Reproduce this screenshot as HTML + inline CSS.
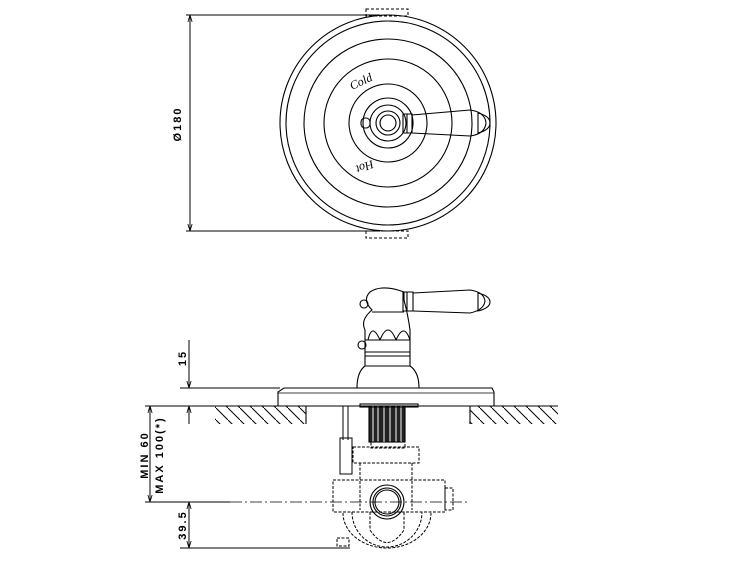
<!DOCTYPE html>
<html><head><style>body{margin:0;background:#fff}svg{display:block}</style></head><body>
<svg width="750" height="563" viewBox="0 0 750 563" xmlns="http://www.w3.org/2000/svg" font-family="Liberation Sans, sans-serif">
<defs>
<marker id="a" viewBox="0 0 10 10" refX="10" refY="5" markerWidth="7" markerHeight="7" orient="auto-start-reverse"><path d="M0,2 L10,5 L0,8" fill="none" stroke="#000" stroke-width="1.2"/></marker>
<pattern id="h" width="12" height="12" patternUnits="userSpaceOnUse"><path d="M0,0 L12,12" stroke="#000" stroke-width="1"/></pattern>
</defs>
<g fill="none" stroke="#000" stroke-width="1.1">
<line x1="186" y1="15" x2="380" y2="15" stroke-width="1"/>
<line x1="186" y1="231" x2="380" y2="231" stroke-width="1"/>
<line x1="190" y1="15" x2="190" y2="231" stroke-width="1" marker-start="url(#a)" marker-end="url(#a)"/>
<rect x="366" y="9" width="42" height="7" stroke-dasharray="3,2" stroke-width="1"/>
<rect x="366" y="231" width="42" height="7" stroke-dasharray="3,2" stroke-width="1"/>
<circle cx="388" cy="123" r="108"/>
<circle cx="388" cy="123" r="102"/>
<circle cx="388" cy="123" r="84"/>
<circle cx="388" cy="123" r="64"/>
<circle cx="388" cy="123" r="39"/>
<circle cx="388" cy="123" r="25"/>
<circle cx="388" cy="123" r="18"/>
<circle cx="388" cy="123" r="12"/>
<circle cx="388" cy="123" r="8"/>
<rect x="361" y="118" width="9" height="10" rx="4"/>
<path d="M403,114 L412,114 L412,133 L403,133 Z M407,114 V133"/>
<path d="M412,115 L470,110 Q485,112 486,123 Q485,134 470,136 L412,133"/>
<path d="M478,113 Q490,116 490,123 Q490,130 478,133 Z"/>
<line x1="180" y1="388" x2="280" y2="388" stroke-width="1"/>
<line x1="145" y1="406" x2="215" y2="406" stroke-width="1"/>
<line x1="145" y1="502" x2="230" y2="502" stroke-width="1"/>
<line x1="180" y1="548" x2="350" y2="548" stroke-width="1"/>
<line x1="189" y1="340" x2="189" y2="388" stroke-width="1" marker-end="url(#a)"/>
<line x1="189" y1="424" x2="189" y2="406" stroke-width="1" marker-end="url(#a)"/>
<line x1="150" y1="406" x2="150" y2="502" stroke-width="1" marker-start="url(#a)" marker-end="url(#a)"/>
<line x1="189" y1="502" x2="189" y2="548" stroke-width="1" marker-start="url(#a)" marker-end="url(#a)"/>
<line x1="230" y1="502" x2="470" y2="502" stroke-width="0.8" stroke-dasharray="12,3,2,3"/>
<rect x="215" y="406" width="91" height="18" fill="url(#h)" stroke="none"/>
<rect x="470" y="406" width="88" height="18" fill="url(#h)" stroke="none"/>
<line x1="215" y1="406" x2="558" y2="406"/>
<line x1="306" y1="406" x2="306" y2="424"/>
<line x1="470" y1="406" x2="470" y2="424"/>
<path d="M278,406 V392 L284,388 H492 L494,392 V406"/>
<line x1="278" y1="393" x2="494" y2="393" stroke-width="0.8"/>
<path d="M357,388 Q357,372 365,366 V330 Q360,320 372,310 Q362,300 370,292 Q380,285 398,290 L404,292 V300 Q408,315 410,330 V366 Q419,372 419,388"/>
<path d="M365,340 H410 M365,352 H410 M365,356 H410 M365,366 H410"/>
<path d="M368,340 Q372,322 380,340 M380,340 Q388,320 396,340 M396,340 Q404,322 410,340"/>
<circle cx="362" cy="345" r="4"/>
<circle cx="364" cy="304" r="4"/>
<path d="M372,312 H404"/>
<path d="M403,292 L413,292 L413,311 L403,311 Z M407,292 V311"/>
<path d="M413,293 L470,290 Q484,292 485,301 Q484,310 470,313 L413,311"/>
<path d="M478,293 Q490,296 490,302 Q490,308 478,311 Z"/>
<rect x="369" y="406" width="36" height="36" fill="#222" stroke="#000"/>
<path d="M373,406 V442 M378,406 V442 M384,406 V442 M390,406 V442 M396,406 V442 M401,406 V442" stroke="#fff" stroke-width="1"/>
<rect x="360" y="404" width="58" height="3"/>
<path d="M343,406 V440 M348,406 V440" stroke-width="1"/>
<rect x="340" y="438" width="12" height="36" stroke-width="1"/>
<g stroke-dasharray="3,1.5" stroke-width="1">
<rect x="371" y="442" width="34" height="6"/>
<rect x="353" y="447" width="66" height="16"/>
<path d="M360,463 V510 M412,463 V510"/>
<rect x="333" y="480" width="112" height="32"/>
<rect x="445" y="488" width="8" height="22"/>
<path d="M352,512 A35,35 0 0,0 422,512 M343,513 A44,35 0 0,0 431,513"/>
<path d="M370,512 V530 Q387,555 404,530 V512"/>
<rect x="337" y="538" width="12" height="8"/>
</g>
<circle cx="387" cy="502" r="17"/>
<circle cx="387" cy="502" r="14"/>
<circle cx="387" cy="502" r="12"/>
</g>
<g font-weight="bold" font-size="11" fill="#000" letter-spacing="2">
<text transform="translate(181,124) rotate(-90)" text-anchor="middle">Ø180</text>
<text transform="translate(186,358) rotate(-90)" text-anchor="middle">15</text>
<text transform="translate(148,455) rotate(-90)" text-anchor="middle">MIN 60</text>
<text transform="translate(163,455) rotate(-90)" text-anchor="middle">MAX 100(*)</text>
<text transform="translate(186,525) rotate(-90)" text-anchor="middle">39.5</text>
</g>
<g font-family="Liberation Serif, serif" font-style="italic" font-size="12" fill="#000">
<text transform="translate(352,90) rotate(-25)">Cold</text>
<text transform="translate(372,160) rotate(160)">Hot</text>
</g>
</svg>
</body></html>
